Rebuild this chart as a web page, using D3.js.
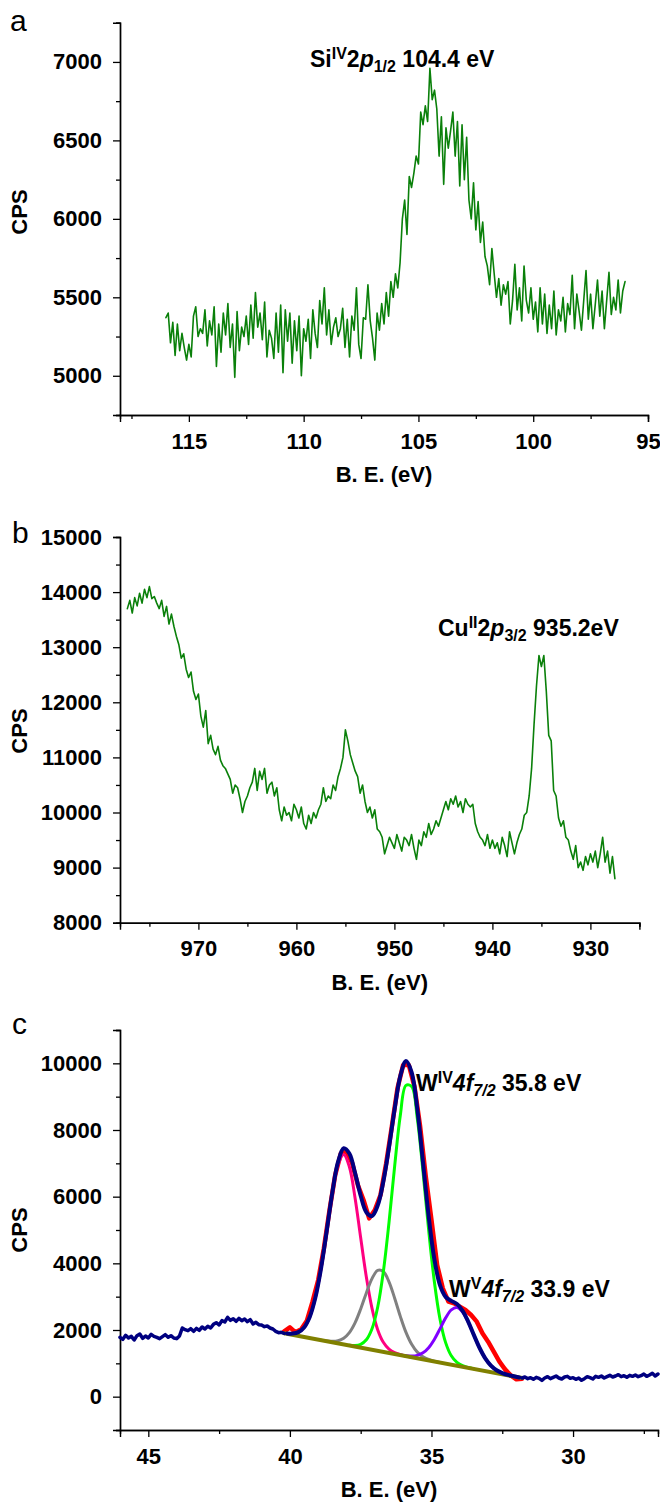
<!DOCTYPE html>
<html>
<head>
<meta charset="utf-8">
<script src="https://cdn.jsdelivr.net/npm/d3@7"></script>
<style>
  body { margin: 0; background: #fff; }
  svg { display: block; font-family: "Liberation Sans", Arial, sans-serif; }
  text { white-space: pre; }
</style>
</head>
<body>
<svg id="chart" width="660" height="1502"></svg>
<script>
// ---- panel a : Si 2p, 116.0 -> 96.0 eV, 0.1 eV steps
var siStart = 116.0;
var siStep = 0.1;
var siCps = [
  5370, 5400, 5210, 5340, 5130, 5330, 5160, 5270, 5180, 5100,
  5200, 5120, 5380, 5440, 5250, 5300, 5270, 5420, 5190, 5350,
  5260, 5440, 5060, 5330, 5150, 5400, 5260, 5460, 5180, 5330,
  4990, 5410, 5160, 5310, 5250, 5380, 5200, 5450, 5240, 5530,
  5310, 5400, 5230, 5470, 5120, 5290, 5240, 5110, 5400, 5150,
  5450, 5020, 5420, 5220, 5400, 5080, 5350, 5160, 5380, 5000,
  5300, 5220, 5360, 5110, 5420, 5270, 5180, 5480, 5330, 5560,
  5260, 5420, 5200, 5310, 5370, 5250, 5300, 5430, 5180, 5360,
  5120, 5380, 5290, 5560, 5200, 5110, 5370, 5360, 5580, 5350,
  5240, 5100, 5400, 5290, 5460, 5330, 5530, 5380, 5600, 5500,
  5650, 5560, 5720, 6000, 6120, 5900, 6270, 6200, 6290, 6400,
  6350, 6680, 6600, 6720, 6620, 6960, 6760, 6820, 6700, 6400,
  6650, 6220, 6580, 6450, 6560, 6680, 6400, 6620, 6210, 6600,
  6250, 6520, 6120, 6000, 6230, 5930, 6110, 5850, 5980, 5760,
  5700, 5580, 5810, 5650, 5500, 5620, 5450, 5580, 5520, 5600,
  5330, 5480, 5710, 5420, 5560, 5350, 5700, 5480, 5400, 5560,
  5360, 5470, 5280, 5560, 5330, 5520, 5270, 5450, 5300, 5540,
  5260, 5420, 5350, 5500, 5280, 5460, 5390, 5640, 5300, 5520,
  5410, 5290, 5480, 5670, 5360, 5520, 5300, 5450, 5610, 5380,
  5540, 5300, 5480, 5660, 5390, 5500, 5420, 5610, 5400, 5540,
  5600
];
var siXMajor = [115, 110, 105, 100, 95];
var siXMinor = [117.5, 112.5, 107.5, 102.5, 97.5];
var siYMajor = [5000, 5500, 6000, 6500, 7000];
var siYMinor = [4750, 5250, 5750, 6250, 6750, 7250];

// ---- panel b : Cu 2p, 977.25 -> 927.5 eV, 0.25 eV steps
var cuStart = 977.25;
var cuStep = 0.25;
var cuCps = [
  13700, 13850, 13620, 13900, 13750, 13980, 13800, 14050, 13900, 14100,
  13880, 13920, 13800, 13700, 13850, 13560, 13740, 13420, 13600, 13380,
  13200, 13050, 12800, 12880, 12600, 12450, 12550, 12200, 12050, 12150,
  11750, 11550, 11850, 11250, 11400, 11150, 11050, 11200, 10950, 10850,
  10800, 10700, 10600, 10350, 10500, 10450, 10250, 10000, 10200, 10300,
  10450, 10550, 10800, 10400, 10750, 10600, 10800, 10350, 10500, 10550,
  10300, 10450, 10050, 9850, 10100, 9950, 10000, 9850, 10150, 10050,
  9900, 10100, 9800, 9700, 9950, 9800, 10000, 9900, 10050, 10150,
  10450, 10200, 10300, 10250, 10500, 10400, 10650, 10800, 11000, 11500,
  11300, 11050, 10900, 10750, 10650, 10350, 10500, 10200, 10000, 10100,
  9900, 10050, 9700, 9650, 9550, 9250, 9400, 9550, 9450, 9350,
  9600, 9450, 9300, 9550, 9500, 9400, 9600, 9350, 9150, 9500,
  9400, 9650, 9550, 9800, 9600, 9700, 9850, 9750, 9900, 10050,
  10200, 10050, 10250, 10150, 10300, 10100, 10200, 10000, 10250, 10150,
  10100, 10150, 9800, 9650, 9550, 9500, 9400, 9600, 9350, 9500,
  9350, 9450, 9250, 9550, 9400, 9200, 9650, 9450, 9250, 9450,
  9600, 9700, 9950, 10000, 10300, 10800, 11600, 12300, 12850, 12650,
  12850, 12200, 11400, 11300, 10400, 10300, 9900, 9750, 9850, 9550,
  9500, 9300, 9150, 9400, 9000, 9100, 8950, 9200, 9050, 9250,
  9100, 9300, 9000, 9250, 9550, 9100, 9300, 8900, 9200, 8800
];
var cuXMajor = [970, 960, 950, 940, 930];
var cuXMinor = [975, 965, 955, 945, 935, 925];
var cuYMajor = [8000, 9000, 10000, 11000, 12000, 13000, 14000, 15000];
var cuYMinor = [8500, 9500, 10500, 11500, 12500, 13500, 14500];

// ---- panel c : W 4f with fit
// raw data outside the fit window, 0.1 eV steps
var wLeftStart = 46.0;
var wLeftCps = [
  1780, 1720, 1840, 1760, 1810, 1700, 1830, 1880, 1750, 1820,
  1760, 1870, 1810, 1780, 1740, 1800, 1860, 1780, 1830, 1760,
  1740, 1820, 2060, 2010, 1980, 2040, 1960, 2050, 1990, 2090,
  2030, 2110, 2060, 2170, 2220, 2150, 2280, 2240, 2380, 2290,
  2340, 2260, 2350, 2280, 2330, 2250, 2310, 2180, 2230, 2160,
  2150, 2100, 2120, 2060, 2030, 1960, 1920, 1930, 1900
];
var wRightStart = 31.8;
var wRightCps = [
  560, 590, 540, 570, 520, 580, 550, 490, 560, 600,
  540, 580, 620, 560, 530, 590, 610, 550, 570, 520,
  560, 490, 540, 600, 570, 530, 610, 580, 620, 560,
  600, 640, 590, 620, 660, 600, 630, 580, 640, 610,
  650, 600, 630, 680, 610, 650, 700, 620, 680
];
// raw data inside the fit window, 40.2 -> 31.8, 0.2 eV steps
var wRawStart = 40.2;
var wRawCps = [
  1960, 2080, 1930, 2020, 2280, 2850, 3500, 4450, 5600, 6650,
  7300, 7350, 7000, 6350, 5900, 5350, 5600, 6050, 7000, 8100,
  9250, 9950, 9950, 9300, 8100, 6600, 5300, 3950, 3250, 2850,
  2800, 2700, 2600, 2450, 2250, 1900, 1650, 1350, 1050, 820,
  640, 520, 540
];
// fitted curves, 0.2 eV steps
var fitStep = 0.2;
var envStart = 40.1;
var envCps = [
  1897, 1893, 1936, 2077, 2393, 2971, 3849, 4967, 6128, 7042,
  7454, 7296, 6718, 6029, 5534, 5418, 5733, 6450, 7477, 8634,
  9620, 10069, 9732, 8620, 7034, 5414, 4132, 3347, 2994, 2875,
  2778, 2576, 2245, 1845, 1460, 1150, 932, 793, 708, 653,
  612, 576
];
var pinkStart = 40.1;
var pinkCps = [
  1897, 1893, 1936, 2077, 2393, 2970, 3846, 4957, 6098, 6961,
  7265, 6897, 5970, 4765, 3590, 2651, 2011, 1631, 1426, 1319,
  1259, 1217, 1182
];
var greyStart = 38.9;
var greyCps = [
  1696, 1671, 1659, 1677, 1752, 1922, 2215, 2632, 3112, 3542,
  3787, 3755, 3446, 2953, 2409, 1928, 1571, 1337, 1198, 1117,
  1065, 1026
];
var greenStart = 37.9;
var greenCps = [
  1543, 1535, 1570, 1706, 2037, 2683, 3748, 5225, 6918, 8440,
  9339, 9307, 8344, 6758, 5002, 3461, 2332, 1622, 1228, 1028,
  929, 873, 833
];
var purpleStart = 36.1;
var purpleCps = [
  1250, 1227, 1218, 1239, 1314, 1469, 1716, 2035, 2363, 2606,
  2677, 2542, 2235, 1843, 1460, 1150, 932, 793, 708, 653,
  612, 576
];
var baseEv = [40.2, 31.8];
var baseCps = [1900, 560];
var wXMajor = [45, 40, 35, 30];
var wXMinor = [42.5, 37.5, 32.5, 27.5];
var wYMajor = [0, 2000, 4000, 6000, 8000, 10000];
var wYMinor = [-1000, 1000, 3000, 5000, 7000, 9000, 11000];

var FONT = 22;
var NOTE_FONT = 23;
var svg = d3.select('#chart');

function toPoints(start, step, values) {
  return values.map(function(v, i) {
    return [+(start - i * step).toFixed(2), v];
  });
}

function drawPanel(opt) {
  var x = d3.scaleLinear().domain(opt.xDomain).range([opt.left, opt.right]);
  var y = d3.scaleLinear().domain(opt.yDomain).range([opt.bottom, opt.top]);
  var g = svg.append('g');

  // minor ticks first, then major ticks with labels
  g.append('g')
      .attr('transform', 'translate(0,' + opt.bottom + ')')
      .call(d3.axisBottom(x).tickValues(opt.xMinor).tickSize(4).tickFormat(''));
  g.append('g')
      .attr('transform', 'translate(' + opt.left + ',0)')
      .call(d3.axisLeft(y).tickValues(opt.yMinor).tickSize(4).tickFormat(''));
  var xa = g.append('g')
      .attr('transform', 'translate(0,' + opt.bottom + ')')
      .call(d3.axisBottom(x).tickValues(opt.xMajor).tickSize(7)
          .tickPadding(11).tickFormat(d3.format('d')));
  var ya = g.append('g')
      .attr('transform', 'translate(' + opt.left + ',0)')
      .call(d3.axisLeft(y).tickValues(opt.yMajor).tickSize(7)
          .tickPadding(11).tickFormat(d3.format('d')));

  g.selectAll('.domain').attr('stroke', '#000').attr('stroke-width', 1.4);
  g.selectAll('.tick line').attr('stroke', '#000').attr('stroke-width', 1.3);
  [xa, ya].forEach(function(a) {
    a.selectAll('text')
        .attr('font-family', '"Liberation Sans", Arial, sans-serif')
        .attr('font-size', FONT).attr('font-weight', 'bold').attr('fill', '#000');
  });

  g.append('text')
      .attr('x', (opt.left + opt.right) / 2).attr('y', opt.bottom + 67)
      .attr('text-anchor', 'middle')
      .attr('font-size', FONT).attr('font-weight', 'bold')
      .text('B. E. (eV)');
  g.append('text')
      .attr('transform', 'translate(27,' + opt.cpsY + ') rotate(-90)')
      .attr('text-anchor', 'middle')
      .attr('font-size', FONT).attr('font-weight', 'bold')
      .text('CPS');
  g.append('text')
      .attr('x', opt.tag[1]).attr('y', opt.tag[2])
      .attr('font-size', 30)
      .text(opt.tag[0]);

  return {g: g, x: x, y: y};
}

function addLine(p, points, color, width, curve) {
  var line = d3.line()
      .x(function(d) { return p.x(d[0]); })
      .y(function(d) { return p.y(d[1]); })
      .curve(curve || d3.curveLinear);
  p.g.append('path')
      .datum(points)
      .attr('fill', 'none')
      .attr('stroke', color)
      .attr('stroke-width', width)
      .attr('stroke-linejoin', 'round')
      .attr('stroke-linecap', 'round')
      .attr('d', line);
}

// text with sup / sub / italic pieces
function richLabel(p, x, y, parts) {
  var t = p.g.append('text').attr('x', x).attr('y', y)
      .attr('font-size', NOTE_FONT).attr('font-weight', 'bold');
  var shift = 0;
  parts.forEach(function(part) {
    var target = part.sup ? -8 : (part.sub ? 5 : 0);
    var ts = t.append('tspan').attr('dy', target - shift).text(part.t);
    shift = target;
    if (part.sup || part.sub) ts.attr('font-size', 16);
    if (part.it) ts.attr('font-style', 'italic');
  });
}

// panel a
var pa = drawPanel({
  left: 120, right: 648, top: 22.7, bottom: 415,
  xDomain: [118, 95], yDomain: [4750, 7250],
  xMajor: siXMajor, xMinor: siXMinor, yMajor: siYMajor, yMinor: siYMinor,
  cpsY: 212, tag: ['a', 10, 31]
});
addLine(pa, toPoints(siStart, siStep, siCps), '#0a800a', 1.6);
richLabel(pa, 310, 67, [
  {t: 'Si'}, {t: 'IV', sup: true}, {t: '2'}, {t: 'p', it: true},
  {t: '1/2', sub: true}, {t: ' 104.4 eV'}
]);

// panel b
var pb = drawPanel({
  left: 120, right: 639.4, top: 537, bottom: 922.7,
  xDomain: [978, 925], yDomain: [8000, 15000],
  xMajor: cuXMajor, xMinor: cuXMinor, yMajor: cuYMajor, yMinor: cuYMinor,
  cpsY: 731, tag: ['b', 12, 543]
});
addLine(pb, toPoints(cuStart, cuStep, cuCps), '#0a800a', 1.6);
richLabel(pb, 438, 636, [
  {t: 'Cu'}, {t: 'II', sup: true}, {t: '2'}, {t: 'p', it: true},
  {t: '3/2', sub: true}, {t: ' 935.2eV'}
]);

// panel c
var pc = drawPanel({
  left: 120, right: 658, top: 1030, bottom: 1430,
  xDomain: [46, 27], yDomain: [-1000, 11000],
  xMajor: wXMajor, xMinor: wXMinor, yMajor: wYMajor, yMinor: wYMinor,
  cpsY: 1230, tag: ['c', 12, 1034]
});
var smooth = d3.curveCatmullRom;
addLine(pc, toPoints(wRawStart, fitStep, wRawCps), '#ff0000', 4.5);
addLine(pc, toPoints(pinkStart, fitStep, pinkCps), '#ff0080', 3, smooth);
addLine(pc, toPoints(greyStart, fitStep, greyCps), '#808080', 3, smooth);
addLine(pc, toPoints(greenStart, fitStep, greenCps), '#00ff00', 3, smooth);
addLine(pc, toPoints(purpleStart, fitStep, purpleCps), '#8000ff', 3, smooth);
addLine(pc, baseEv.map(function(e, i) { return [e, baseCps[i]]; }), '#808000', 4);
addLine(pc, toPoints(wLeftStart, 0.1, wLeftCps), '#000080', 3.5);
addLine(pc, toPoints(envStart, fitStep, envCps), '#000080', 4, smooth);
addLine(pc, toPoints(wRightStart, 0.1, wRightCps), '#000080', 3.5);
richLabel(pc, 416, 1091, [
  {t: 'W'}, {t: 'IV', sup: true}, {t: '4f', it: true},
  {t: '7/2', sub: true, it: true}, {t: ' 35.8 eV'}
]);
richLabel(pc, 449, 1297, [
  {t: 'W'}, {t: 'V', sup: true}, {t: '4f', it: true},
  {t: '7/2', sub: true, it: true}, {t: ' 33.9 eV'}
]);
</script>
</body>
</html>
